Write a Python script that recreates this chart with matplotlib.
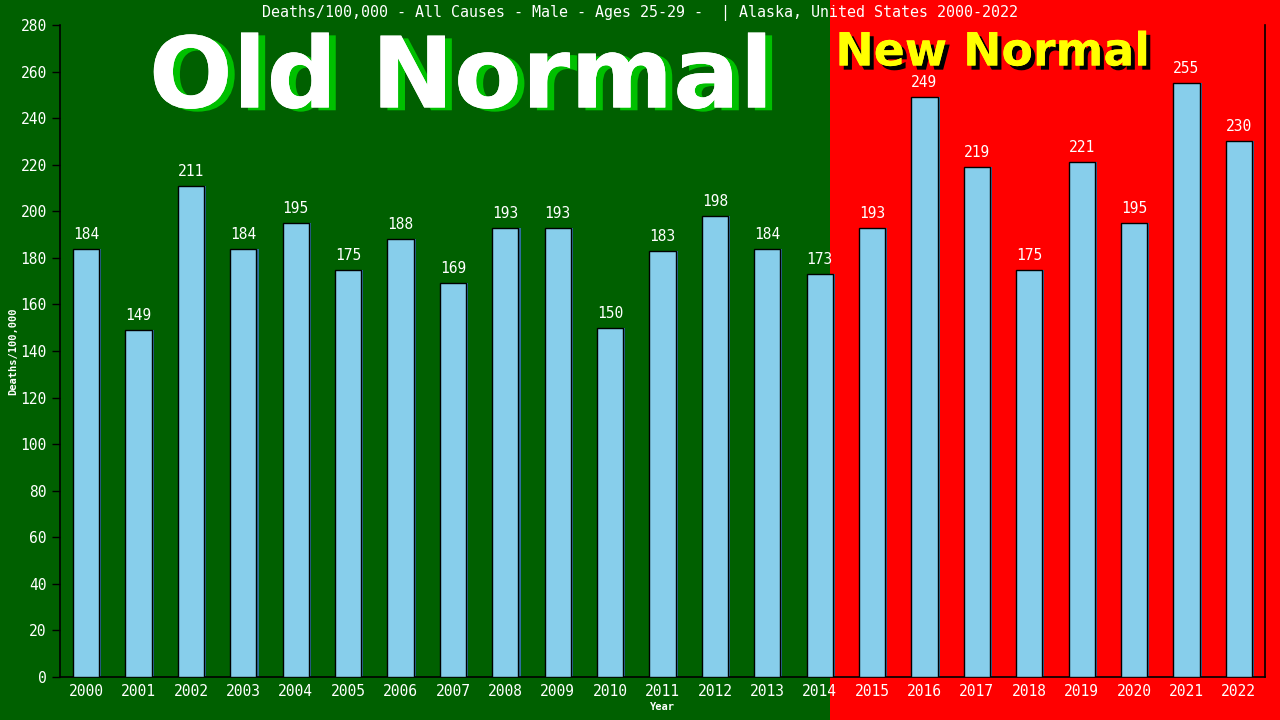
import matplotlib
matplotlib.use("Agg")
import matplotlib.pyplot as plt
import matplotlib.patheffects as pe
from matplotlib.patches import Rectangle

years = [str(y) for y in range(2000, 2023)]
deaths = [184, 149, 211, 184, 195, 175, 188, 169, 193, 193, 150, 183, 198,
          184, 173, 193, 249, 219, 175, 221, 195, 255, 230]
yticks = list(range(0, 281, 20))

title = "Deaths/100,000 - All Causes - Male - Ages 25-29 -  | Alaska, United States 2000-2022"
mono = "DejaVu Sans Mono"
GREEN = "#006000"
RED = "#ff0000"
BAR = "#87ceeb"

fig = plt.figure(figsize=(12.8, 7.2), dpi=100)
fig.patch.set_facecolor(GREEN)
ax = fig.add_axes([60/1280, 43/720, (1265-60)/1280, (677-25)/720])
ax.patch.set_alpha(0)

x = list(range(len(years)))
ax.set_xlim(-0.5, len(years) - 0.5)
ax.set_ylim(0, 280)

# background split (old normal / new normal) in figure coords
split_data = 14.2
fig.canvas.draw()
xs_disp = ax.transData.transform((split_data, 0))[0]
xs_fig = fig.transFigure.inverted().transform((xs_disp, 0))[0]
fig.patches.append(Rectangle((xs_fig, 0), 1 - xs_fig, 1, transform=fig.transFigure,
                             facecolor=RED, edgecolor="none", zorder=-10))

# shadow bars
ax.bar([i + 0.04 for i in x], deaths, width=0.5, color="#2f6f9f", edgecolor="none", zorder=2)
ax.bar(x, deaths, width=0.5, color=BAR, edgecolor="black", linewidth=1.0, zorder=3)

for i, v in zip(x, deaths):
    ax.text(i, v + 3, str(v), ha="center", va="bottom", color="white",
            fontsize=10.5, family=mono, zorder=4)

ax.set_xticks(x)
ax.set_xticklabels(years, family=mono, fontsize=10.5, color="white")
ax.set_yticks(yticks)
ax.set_yticklabels([str(t) for t in yticks], family=mono, fontsize=10.5, color="white")
ax.tick_params(axis="y", colors="black", labelcolor="white", length=6, width=1)
ax.tick_params(axis="x", length=0, pad=5, labelcolor="white")

for s in ["left", "bottom", "right"]:
    ax.spines[s].set_color("black")
    ax.spines[s].set_linewidth(1.2)
ax.spines["top"].set_visible(False)

ax.set_xlabel("Year", family=mono, fontsize=7.5, color="white", fontweight="bold", labelpad=2)
ax.set_ylabel("Deaths/100,000", family=mono, fontsize=7.5, color="white", fontweight="bold", labelpad=2)

fig.text(0.5, 1 - 13/720, title, ha="center", va="center", color="white",
         family=mono, fontsize=10.8)

fig.text(461/1280, 1 - 80/720, "Old Normal", ha="center", va="center", color="white",
         fontsize=71, fontweight="bold", family="DejaVu Sans",
         path_effects=[pe.withSimplePatchShadow(offset=(5, -2), shadow_rgbFace="#00c000", alpha=1.0),
                       pe.Normal()])
fig.text(993/1280, 1 - 53/720, "New Normal", ha="center", va="center", color="#ffff00",
         fontsize=33, fontweight="bold", family="DejaVu Sans",
         path_effects=[pe.withSimplePatchShadow(offset=(3, -3), shadow_rgbFace="black", alpha=1.0),
                       pe.Normal()])

fig.savefig("out.png", dpi=100, facecolor=fig.get_facecolor())
